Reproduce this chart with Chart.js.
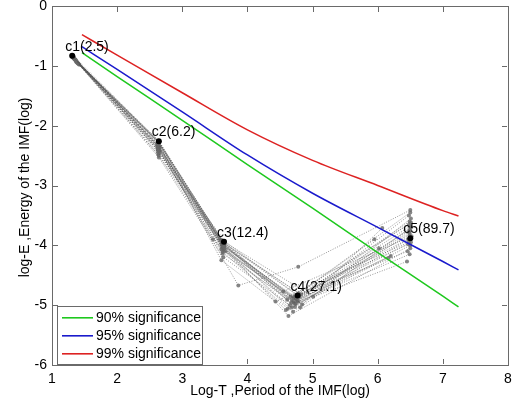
<!DOCTYPE html>
<html lang="en">
<head>
<meta charset="UTF-8">
<title>IMF energy vs period</title>
<script src="https://cdn.jsdelivr.net/npm/chart.js"></script>
<style>
    html, body { margin: 0; padding: 0; background: #fff; overflow: hidden; }
    #wrap { width: 517px; height: 398px; }
</style>
</head>
<body>
<div id="wrap"><canvas id="imfChart"></canvas></div>
<script>
// significance lines (log-T vs log-E)
const sigLogT = [1.46, 2, 3, 4, 5, 6, 7, 7.24];
const sig90 = [-0.78, -1.18, -1.91, -2.65, -3.38, -4.12, -4.85, -5.03];
const sig95 = [-0.68, -1.06, -1.77, -2.49, -3.13, -3.70, -4.27, -4.41];
const sig99 = [-0.48, -0.82, -1.45, -2.07, -2.58, -3.00, -3.42, -3.51];
const sigNames = ['90% significance', '95% significance', '99% significance'];
const sigColors = ['#1ec81e', '#1a1acc', '#dd2222'];

// mean IMF points c1..c5
const imfLogT = [1.31, 2.64, 3.64, 4.77, 6.50];
const imfLogE = [-0.83, -2.26, -3.94, -4.84, -3.88];
const imfLabels = ['c1(2.5)', 'c2(6.2)', 'c3(12.4)', 'c4(27.1)', 'c5(89.7)'];

// ensemble trials, one row per trial (5 IMFs each)
const ensLogT = [
    [1.31, 2.63, 3.63, 4.77, 6.50],
    [1.33, 2.64, 3.64, 4.73, 6.49],
    [1.37, 2.62, 3.61, 4.81, 6.51],
    [1.32, 2.63, 3.60, 4.43, 6.47],
    [1.36, 2.65, 3.65, 4.63, 6.50],
    [1.39, 2.63, 3.58, 5.01, 6.45],
    [1.33, 2.62, 3.86, 4.78, 6.50],
    [1.31, 2.64, 3.63, 4.70, 6.51],
    [1.40, 2.63, 3.47, 4.59, 6.16],
    [1.32, 2.65, 3.64, 4.84, 6.07],
    [1.35, 2.63, 3.66, 4.66, 6.48],
    [1.38, 2.62, 3.62, 4.61, 6.46],
    [1.32, 2.65, 3.63, 4.55, 6.52],
    [1.42, 2.64, 3.60, 4.69, 6.49],
    [1.34, 2.63, 3.64, 4.74, 6.50],
    [1.33, 2.64, 3.62, 4.76, 6.49],
    [1.36, 2.63, 3.62, 4.72, 6.48],
    [1.32, 2.62, 3.65, 4.80, 6.50],
    [1.38, 2.64, 3.63, 4.68, 6.47],
    [1.36, 2.62, 3.60, 4.75, 6.51],
    [1.41, 2.63, 3.62, 4.71, 6.02],
    [1.31, 2.64, 3.63, 4.65, 6.49],
    [1.34, 2.63, 3.64, 4.79, 6.50],
    [1.39, 2.62, 3.61, 4.70, 5.95],
    [1.35, 2.65, 3.62, 4.62, 6.48],
    [1.32, 2.64, 3.64, 4.82, 6.51],
    [1.37, 2.63, 3.60, 4.67, 6.20],
    [1.33, 2.62, 3.63, 4.74, 6.49],
    [1.34, 2.64, 3.62, 4.78, 6.50],
    [1.40, 2.63, 3.64, 4.72, 6.47]
];
const ensLogE = [
    [-0.84, -2.26, -3.95, -4.84, -3.88],
    [-0.86, -2.30, -3.99, -5.03, -3.80],
    [-0.91, -2.34, -3.92, -5.04, -3.70],
    [-0.85, -2.28, -4.25, -4.94, -3.95],
    [-0.90, -2.40, -4.05, -5.18, -4.05],
    [-0.95, -2.45, -3.90, -4.86, -4.27],
    [-0.85, -2.33, -4.67, -4.36, -3.41],
    [-0.84, -2.50, -4.02, -5.11, -3.55],
    [-0.96, -2.38, -3.90, -5.08, -4.21],
    [-0.86, -2.27, -3.98, -4.99, -3.71],
    [-0.89, -2.42, -4.10, -4.86, -3.65],
    [-0.93, -2.31, -3.96, -4.91, -4.10],
    [-0.85, -2.36, -4.08, -4.77, -3.85],
    [-0.98, -2.29, -3.94, -4.92, -3.60],
    [-0.87, -2.34, -4.00, -4.98, -4.00],
    [-0.84, -2.26, -3.99, -4.90, -3.75],
    [-0.90, -2.32, -4.03, -4.97, -3.50],
    [-0.86, -2.39, -3.93, -4.86, -3.68],
    [-0.94, -2.29, -4.06, -5.04, -3.90],
    [-0.91, -2.35, -3.99, -4.93, -3.95],
    [-0.97, -2.48, -4.14, -4.95, -4.05],
    [-0.85, -2.53, -4.20, -5.00, -4.15],
    [-0.88, -2.25, -3.97, -4.80, -3.45],
    [-0.95, -2.37, -4.04, -4.88, -3.90],
    [-0.89, -2.44, -4.11, -5.06, -3.78],
    [-0.85, -2.28, -3.96, -4.82, -3.62],
    [-0.93, -2.41, -4.07, -4.96, -4.18],
    [-0.87, -2.30, -4.01, -4.89, -3.83],
    [-0.88, -2.36, -3.98, -4.94, -3.72],
    [-0.96, -2.27, -4.03, -4.85, -3.98]
];

const xTicks = [1, 2, 3, 4, 5, 6, 7, 8];
const yTicks = [0, -1, -2, -3, -4, -5, -6];
const xTitle = 'Log-T ,Period of the IMF(log)';
const yTitle = 'log-E ,Energy of the IMF(log)';

const FONT = '"Liberation Sans", Arial, sans-serif';
const FRAME = '#6a6a6a';

function pts(xs, ys) {
    return xs.map((v, i) => ({ x: v, y: ys[i] }));
}

const datasets = [];

ensLogT.forEach((row, i) => {
    datasets.push({
        label: 'trial ' + (i + 1),
        data: pts(row, ensLogE[i]),
        showLine: true,
        borderColor: 'rgba(80,80,80,0.6)',
        borderWidth: 1,
        borderDash: [1, 1.5],
        pointRadius: 2,
        pointBackgroundColor: 'rgba(105,105,105,0.8)',
        pointBorderWidth: 0,
        order: 3
    });
});

[sig90, sig95, sig99].forEach((vals, i) => {
    datasets.push({
        label: sigNames[i],
        data: pts(sigLogT, vals),
        showLine: true,
        cubicInterpolationMode: 'monotone',
        borderColor: sigColors[i],
        borderWidth: 1.5,
        pointRadius: 0,
        order: 2
    });
});

datasets.push({
    label: 'IMF',
    data: pts(imfLogT, imfLogE),
    showLine: false,
    pointRadius: 3,
    pointBackgroundColor: '#000',
    pointBorderWidth: 0,
    order: 1
});

const decorPlugin = {
    id: 'decor',
    afterDraw(chart) {
        const { ctx, chartArea: a, scales: { x, y } } = chart;
        ctx.save();
        ctx.setLineDash([]);

        // point labels
        ctx.fillStyle = '#000';
        ctx.font = '14px ' + FONT;
        ctx.textAlign = 'left';
        ctx.textBaseline = 'alphabetic';
        imfLabels.forEach((t, i) => {
            const px = x.getPixelForValue(imfLogT[i]);
            const py = y.getPixelForValue(imfLogE[i]);
            ctx.fillText(t, px - 7, py - 5);
        });

        // inward ticks on all four sides
        const L = Math.round(a.left), R = Math.round(a.right) - 1;
        const T = Math.round(a.top), B = Math.round(a.bottom) - 1;
        ctx.fillStyle = FRAME;
        xTicks.forEach(v => {
            const px = Math.round(x.getPixelForValue(v));
            ctx.fillRect(px, B - 5, 1, 5);
            ctx.fillRect(px, T + 1, 1, 5);
        });
        yTicks.forEach(v => {
            const py = Math.round(y.getPixelForValue(v));
            ctx.fillRect(L + 1, py, 5, 1);
            ctx.fillRect(R - 5, py, 5, 1);
        });

        // legend in lower-left corner
        const lx = L + 5, lw = 145, lh = 59, ly = B - lh + 1;
        ctx.fillStyle = '#fff';
        ctx.fillRect(lx, ly, lw, lh);
        ctx.fillStyle = FRAME;
        ctx.fillRect(lx, ly, lw, 1);
        ctx.fillRect(lx, ly, 1, lh);
        ctx.fillRect(lx + lw, ly, 1, lh);
        ctx.fillRect(lx, B, lw + 1, 1);
        ctx.font = '14px ' + FONT;
        ctx.textBaseline = 'middle';
        sigNames.forEach((name, i) => {
            const cy = ly + 12 + i * 18;
            ctx.fillStyle = sigColors[i];
            ctx.fillRect(lx + 5, cy - 1, 31, 1.6);
            ctx.fillStyle = '#000';
            ctx.fillText(name, lx + 39, cy);
        });

        // axis titles
        ctx.fillStyle = '#000';
        ctx.font = '14px ' + FONT;
        ctx.textAlign = 'center';
        ctx.textBaseline = 'middle';
        ctx.fillText(xTitle, (a.left + a.right) / 2, a.bottom + 26);
        ctx.translate(25, (a.top + a.bottom) / 2 + 2);
        ctx.rotate(-Math.PI / 2);
        ctx.fillText(yTitle, 0, 0);
        ctx.restore();
    }
};

const frameBorder = { display: true, color: FRAME, width: 1 };

new Chart(document.getElementById('imfChart'), {
    type: 'scatter',
    data: { datasets: datasets },
    options: {
        responsive: true,
        maintainAspectRatio: false,
        animation: false,
        layout: { padding: { top: 6, right: 9, left: 0, bottom: 0 } },
        plugins: {
            legend: { display: false },
            tooltip: { enabled: false }
        },
        scales: {
            x: {
                type: 'linear',
                position: 'bottom',
                min: 1, max: 8,
                afterBuildTicks: s => { s.ticks = xTicks.map(v => ({ value: v })); },
                grid: { display: false, drawTicks: false, tickLength: 0 },
                border: frameBorder,
                ticks: { color: '#000', font: { size: 14, family: FONT }, padding: 6 },
                afterFit: s => { s.height = 33; s.paddingLeft = 0; s.paddingRight = 0; }
            },
            x2: {
                type: 'linear',
                position: 'top',
                min: 1, max: 8,
                grid: { display: false, drawTicks: false, tickLength: 0 },
                border: frameBorder,
                ticks: { display: false },
                afterFit: s => { s.height = 0; s.paddingLeft = 0; s.paddingRight = 0; }
            },
            y: {
                type: 'linear',
                position: 'left',
                min: -6, max: 0,
                afterBuildTicks: s => { s.ticks = yTicks.slice().reverse().map(v => ({ value: v })); },
                grid: { display: false, drawTicks: false, tickLength: 0 },
                border: frameBorder,
                ticks: { color: '#000', font: { size: 14, family: FONT }, padding: 5 },
                afterFit: s => { s.width = 52; s.paddingTop = 0; s.paddingBottom = 0; }
            },
            y2: {
                type: 'linear',
                position: 'right',
                min: -6, max: 0,
                grid: { display: false, drawTicks: false, tickLength: 0 },
                border: frameBorder,
                ticks: { display: false },
                afterFit: s => { s.width = 0; s.paddingTop = 0; s.paddingBottom = 0; }
            }
        }
    },
    plugins: [decorPlugin]
});
</script>
</body>
</html>
